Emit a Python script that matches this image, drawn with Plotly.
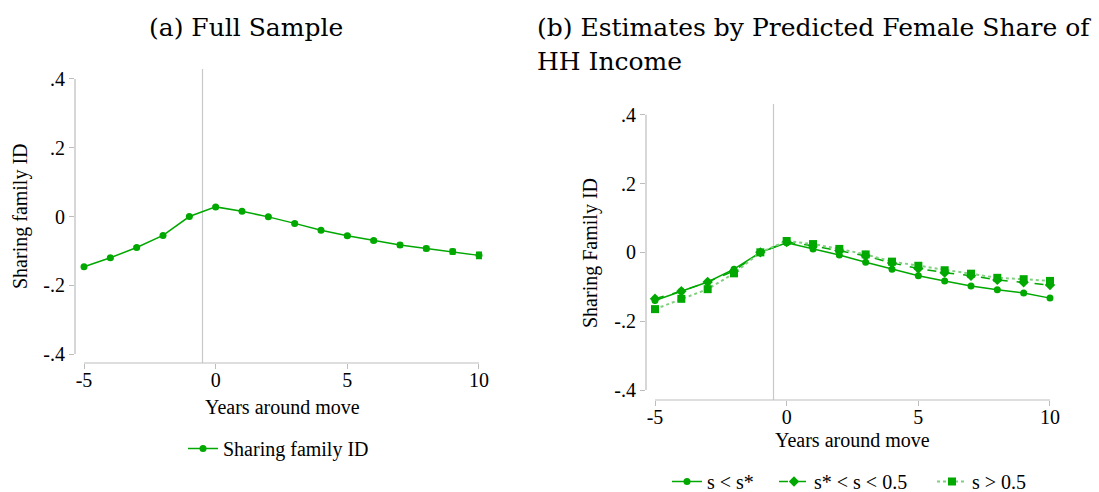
import plotly.graph_objects as go

# ---------------- data ----------------
years = [-5, -4, -3, -2, -1, 0, 1, 2, 3, 4, 5, 6, 7, 8, 9, 10]

full_sample = [-0.146, -0.120, -0.090, -0.055, 0.000, 0.028, 0.015, -0.001,
               -0.020, -0.040, -0.056, -0.070, -0.083, -0.093, -0.102, -0.113]
full_sample_ci = [0.003, 0.003, 0.003, 0.002, 0.0, 0.002, 0.002, 0.002,
                  0.003, 0.003, 0.004, 0.004, 0.005, 0.006, 0.007, 0.009]

s_low = [-0.140, -0.113, -0.086, -0.049, 0.000, 0.028, 0.010, -0.008,
         -0.029, -0.049, -0.068, -0.083, -0.098, -0.109, -0.118, -0.133]
s_mid = [-0.135, -0.113, -0.086, -0.054, 0.000, 0.030, 0.019, 0.005,
         -0.010, -0.031, -0.047, -0.059, -0.068, -0.080, -0.087, -0.095]
s_high = [-0.165, -0.135, -0.107, -0.061, 0.000, 0.033, 0.024, 0.010,
          -0.006, -0.027, -0.039, -0.052, -0.062, -0.074, -0.078, -0.083]

x_ticks = [-5, 0, 5, 10]
x_ticktext = ["-5", "0", "5", "10"]
y_ticks = [-0.4, -0.2, 0, 0.2, 0.4]
y_ticktext = ["-.4", "-.2", "0", ".2", ".4"]

title_a = "(a) Full Sample"
title_b1 = "(b) Estimates by Predicted Female Share of"
title_b2 = "HH Income"
xlabel = "Years around move"
ylabel_a = "Sharing family ID"
ylabel_b = "Sharing Family ID"
names_b = ["s &lt; s*", "s* &lt; s &lt; 0.5", "s &gt; 0.5"]

# ---------------- style ----------------
W, H = 1099, 492
GREEN = "#00a800"
AXIS_GRAY = "#bdbdbd"
VLINE_GRAY = "#c8c8c8"
SERIF = "Liberation Serif, Times New Roman, serif"
TITLE_FONT = "DejaVu Serif, serif"
LEG_FONT = dict(family=SERIF, size=20, color="black")


def px(x):
    return x / W


def py(y):
    return (H - y) / H


fig = go.Figure()

fig.add_trace(go.Scatter(
    x=years, y=full_sample, name=ylabel_a, mode="lines+markers",
    line=dict(color=GREEN, width=1.5),
    marker=dict(color=GREEN, size=7, symbol="circle"),
    error_y=dict(type="data", array=full_sample_ci, color=GREEN, thickness=1.5, width=3),
    xaxis="x", yaxis="y", legend="legend",
))

fig.add_trace(go.Scatter(
    x=years, y=s_low, name=names_b[0], mode="lines+markers",
    line=dict(color=GREEN, width=1.5),
    marker=dict(color=GREEN, size=7, symbol="circle"),
    xaxis="x2", yaxis="y2", legend="legend2",
))
fig.add_trace(go.Scatter(
    x=years, y=s_mid, name=names_b[1], mode="lines+markers",
    line=dict(color=GREEN, width=1.5, dash="dash"),
    marker=dict(color=GREEN, size=8, symbol="diamond"),
    xaxis="x2", yaxis="y2", legend="legend3",
))
fig.add_trace(go.Scatter(
    x=years, y=s_high, name=names_b[2], mode="lines+markers",
    line=dict(color="#7fd07f", width=2, dash="dot"),
    marker=dict(color=GREEN, size=8, symbol="square"),
    xaxis="x2", yaxis="y2", legend="legend4",
))

xr = [-5.342, 10.342]
common_x = dict(range=xr, tickvals=x_ticks, ticktext=x_ticktext, ticks="outside",
                ticklen=5, tickcolor=AXIS_GRAY, showgrid=False, zeroline=False,
                showline=False, tickfont=dict(family=SERIF, size=20, color="black"),
                fixedrange=True, automargin=False, ticklabelstandoff=-6)
common_y = dict(tickvals=y_ticks, ticktext=y_ticktext, ticks="outside",
                ticklen=5, tickcolor=AXIS_GRAY, showgrid=False, zeroline=False,
                showline=False, tickfont=dict(family=SERIF, size=20, color="black"),
                fixedrange=True, automargin=False)

shapes = []
for xa, ya in (("x", "y"), ("x2", "y2")):
    # Stata-style axis lines spanning only the tick range
    shapes.append(dict(type="line", xref=f"{xa} domain", x0=0, x1=0, yref=ya,
                       y0=-0.4, y1=0.4, line=dict(color=AXIS_GRAY, width=1.2)))
    shapes.append(dict(type="line", xref=xa, x0=-5, x1=10, yref=f"{ya} domain",
                       y0=0, y1=0, line=dict(color=AXIS_GRAY, width=1.2)))
    shapes.append(dict(type="line", xref=xa, x0=-0.5, x1=-0.5, yref=f"{ya} domain",
                       y0=0, y1=1, line=dict(color=VLINE_GRAY, width=1.2), layer="below"))

annotations = [
    dict(text=title_a, x=px(246), y=py(27), xref="paper", yref="paper",
         xanchor="center", yanchor="middle", showarrow=False,
         font=dict(family=TITLE_FONT, size=25, color="black")),
    dict(text=title_b1, x=px(535), y=py(27), xref="paper", yref="paper",
         xanchor="left", yanchor="middle", showarrow=False,
         font=dict(family=TITLE_FONT, size=25, color="black")),
    dict(text=title_b2, x=px(535), y=py(61), xref="paper", yref="paper",
         xanchor="left", yanchor="middle", showarrow=False,
         font=dict(family=TITLE_FONT, size=25, color="black")),
    dict(text=xlabel, x=px(282), y=py(407), xref="paper", yref="paper",
         xanchor="center", yanchor="middle", showarrow=False,
         font=dict(family=SERIF, size=20, color="black")),
    dict(text=xlabel, x=px(852), y=py(440), xref="paper", yref="paper",
         xanchor="center", yanchor="middle", showarrow=False,
         font=dict(family=SERIF, size=20, color="black")),
    dict(text=ylabel_a, x=px(21), y=py(216), xref="paper", yref="paper",
         xanchor="center", yanchor="middle", showarrow=False, textangle=-90,
         font=dict(family=SERIF, size=20, color="black")),
    dict(text=ylabel_b, x=px(591), y=py(253), xref="paper", yref="paper",
         xanchor="center", yanchor="middle", showarrow=False, textangle=-90,
         font=dict(family=SERIF, size=20, color="black")),
]


def leg(x_line_start, y_center):
    return dict(orientation="h", x=px(x_line_start - 5), xanchor="left",
                y=py(y_center - 20), yanchor="top", font=LEG_FONT, itemwidth=30,
                bgcolor="rgba(0,0,0,0)")


fig.update_layout(
    width=W, height=H,
    margin=dict(l=0, r=0, t=0, b=0, autoexpand=False),
    paper_bgcolor="white", plot_bgcolor="white",
    xaxis=dict(domain=[px(75), px(488)], anchor="y", **common_x),
    yaxis=dict(domain=[py(363), py(69)], anchor="x", range=[-0.426, 0.429], **common_y),
    xaxis2=dict(domain=[px(646), px(1059)], anchor="y2", **common_x),
    yaxis2=dict(domain=[py(400), py(104)], anchor="x2", range=[-0.429, 0.431], **common_y),
    shapes=shapes,
    annotations=annotations,
    legend=leg(188, 449),
    legend2=leg(672, 482),
    legend3=leg(779, 482),
    legend4=leg(937, 482),
    showlegend=True,
)

fig.write_html(
    "out.html",
    config={"displayModeBar": False},
    post_script="document.body.style.margin='0';"
                "document.documentElement.style.overflow='hidden';",
)
